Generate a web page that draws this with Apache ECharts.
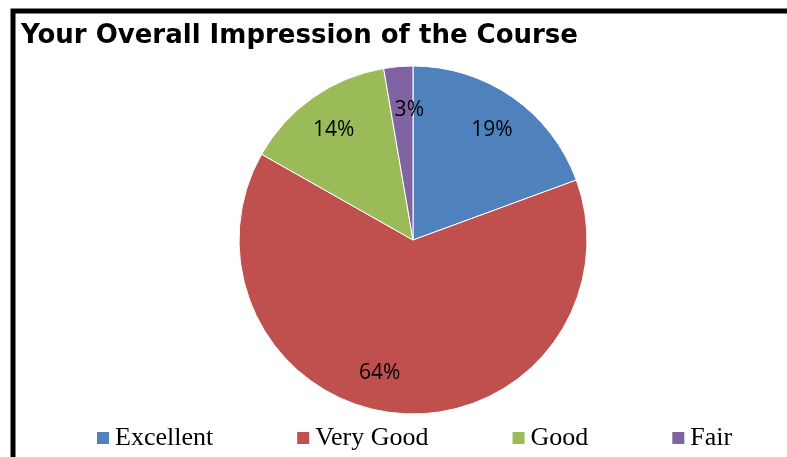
<!DOCTYPE html>
<html>
<head>
<meta charset="utf-8">
<script src="https://cdn.jsdelivr.net/npm/echarts@6/dist/echarts.min.js"></script>
<style>
	html, body { margin: 0; padding: 0; background: #fff; }
	#chart { width: 787px; height: 457px; }
</style>
</head>
<body>
<div id="chart"></div>
<script>
	'use strict'

	/*-----data-----*/
	var categories = ['Excellent', 'Very Good', 'Good', 'Fair'];
	var shares = [19.4, 63.8, 14.1, 2.7];
	var colors = ['#4f81bd', '#c0504d', '#9bbb59', '#8064a2'];

	// small nudges so the percents land where the original put them
	var labelOffsets = {
		'Very Good': [-22, -8],
		'Fair': [8, 5]
	};

	var pieData = categories.map(function(name, i) {
		var item = { name: name, value: shares[i] };
		if (labelOffsets[name]) {
			item.label = { offset: labelOffsets[name] };
		}
		return item;
	});

	var chart = echarts.init(document.getElementById('chart'));
	var option = {
		animation: false,
		color: colors,
		title: {
			text: 'Your Overall Impression of the Course',
			left: 21,
			top: 23,
			padding: 0,
			textStyle: {
				fontFamily: 'DejaVu Sans',
				fontWeight: 'bold',
				fontSize: 26,
				color: '#000'
			}
		},
		legend: {
			data: categories,
			left: 95,
			top: 425,
			padding: 0,
			itemWidth: 14,
			itemHeight: 14,
			itemGap: 82,
			icon: 'rect',
			textStyle: {
				fontFamily: 'Liberation Serif',
				fontSize: 26,
				color: '#000'
			}
		},
		graphic: [{
			type: 'rect',
			shape: { x: 13, y: 11, width: 820, height: 500 },
			style: { fill: 'none', stroke: '#000', lineWidth: 5 },
			silent: true
		}],
		series: [{
			name: 'Impression',
			type: 'pie',
			center: [413, 240],
			radius: 174,
			startAngle: 90,
			clockwise: true,
			data: categories.map(function(name, i) {
				return { name: name, value: shares[i] };
			}),
			label: { show: false },
			labelLine: { show: false },
			itemStyle: { borderColor: '#fff', borderWidth: 1 },
			emphasis: { disabled: true }
		}, {
			// label ring so the percents sit at ~0.78 of the radius
			name: 'Labels',
			type: 'pie',
			center: [413, 243],
			radius: [96, 174],
			startAngle: 90,
			clockwise: true,
			silent: true,
			data: pieData,
			itemStyle: { color: 'transparent' },
			label: {
				show: true,
				position: 'inside',
				fontFamily: 'Open Sans',
				fontSize: 21,
				color: '#000',
				formatter: function(p) {
					return Math.round(p.value) + '%';
				}
			},
			labelLine: { show: false },
			emphasis: { disabled: true }
		}]
	};
	chart.setOption(option);
</script>
</body>
</html>
